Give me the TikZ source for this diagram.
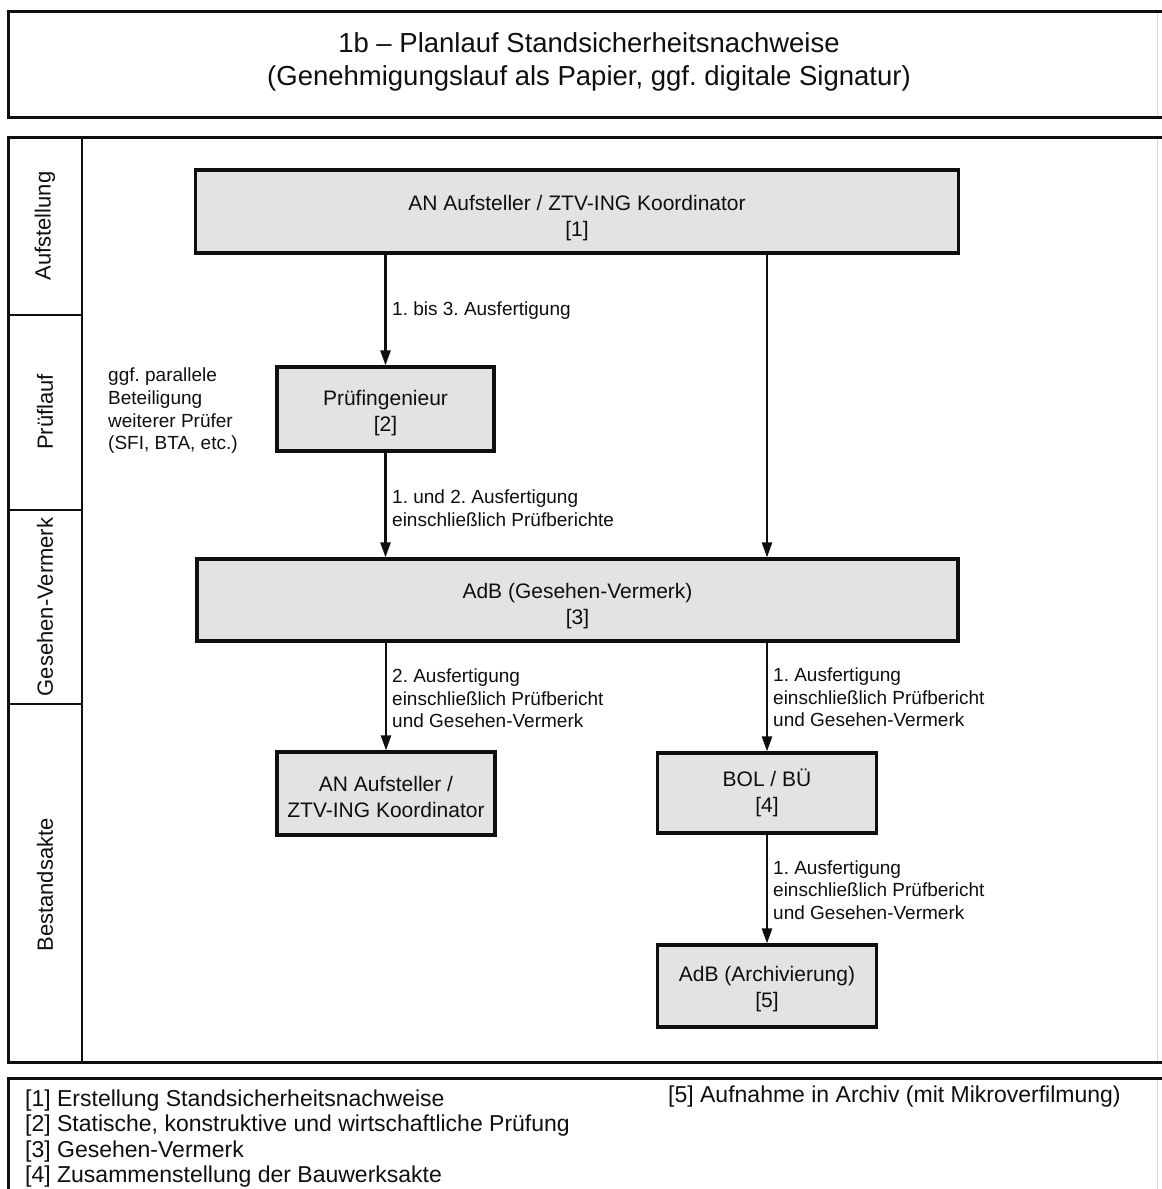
\documentclass[tikz,border=0pt]{standalone}
\usepackage{fontspec}
\setmainfont{Liberation Sans}
\usetikzlibrary{arrows.meta}
\definecolor{boxgray}{gray}{0.89}
\definecolor{ink}{gray}{0.06}
\newcommand{\toppad}{\rule{0pt}{28pt}}
\frenchspacing
\begin{document}
\frenchspacing
\begin{tikzpicture}[x=1pt,y=-1pt,
  every node/.style={text=ink},
  box/.style={draw=ink, line width=3.2pt, fill=boxgray, inner sep=0pt, align=center,
    font=\fontsize{21}{26}\selectfont},
  lbl/.style={anchor=west, inner sep=0pt, align=left, font=\fontsize{19}{22.5}\selectfont},
  arr/.style={draw=ink, line width=2.4pt, -{Triangle[length=15pt,width=10pt]}},
  frame/.style={draw=ink, line width=3pt},
  thinframe/.style={draw=ink, line width=2.2pt},
  faint/.style={draw=gray!30, line width=0.8pt},
  lane/.style={rotate=90, inner sep=0pt, font=\fontsize{22}{26}\selectfont},
  leg/.style={anchor=west, inner sep=0pt, font=\fontsize{23}{27}\selectfont}]
\useasboundingbox (0,0) rectangle (1162,1189);
\fill[white] (0,0) rectangle (1162,1189);

% frames
\draw[faint] (1157,11) -- (1157,117);
\draw[faint] (1157,137) -- (1157,1062);
\draw[faint] (1157,1078) -- (1157,1189);
\draw[frame] (1170,11) -- (8,11) -- (8,117) -- (1170,117);
\draw[frame] (1170,137) -- (8,137) -- (8,1062) -- (1170,1062);
\draw[frame] (1170,1078) -- (8,1078) -- (8,1200);
\draw[thinframe] (82,137) -- (82,1062);
\draw[thinframe] (8,315) -- (82,315);
\draw[thinframe] (8,510) -- (82,510);
\draw[thinframe] (8,704) -- (82,704);

% title
\node[align=center, inner sep=0pt, font=\fontsize{27.5}{33}\selectfont] (title) at (589,62)
  {1b -- Planlauf Standsicherheitsnachweise\\(Genehmigungslauf als Papier, ggf. digitale Signatur)};

% lanes
\node[lane] (l1) at (45,226) {Aufstellung};
\node[lane] (l2) at (45,412) {Prüflauf};
\node[lane] (l3) at (45,607) {Gesehen-Vermerk};
\node[lane] (l4) at (45,885) {Bestandsakte};

% boxes
\node[box, minimum width=763pt, minimum height=83pt] (b1) at (577,211.5)
  {\toppad AN Aufsteller / ZTV-ING Koordinator\\{}[1]};
\node[box, minimum width=217pt, minimum height=84pt] (b2) at (385.5,409)
  {\rule{0pt}{24pt}Prüfingenieur\\{}[2]};
\node[box, minimum width=761pt, minimum height=82pt] (b3) at (577.5,600)
  {\toppad AdB (Gesehen-Vermerk)\\{}[3]};
\node[box, minimum width=218pt, minimum height=83pt] (b4a) at (386,793.5)
  {\rule{0pt}{23pt}AN Aufsteller /\\ZTV-ING Koordinator};
\node[box, minimum width=219pt, minimum height=80pt] (b4) at (767,793)
  {BOL / BÜ\\{}[4]};
\node[box, minimum width=219pt, minimum height=82pt] (b5) at (767,986)
  {\rule{0pt}{22pt}AdB (Archivierung)\\{}[5]};

% connectors
\draw[arr] (b1.south -| b2.north) -- (b2.north);
\draw[arr] (b2.south) -- (b3.north -| b2.south);
\draw[arr] (b3.south -| b4a.north) -- (b4a.north);
\draw[arr] (b1.south -| b4.north) -- (b3.north -| b4.north);
\draw[arr] (b3.south -| b4.north) -- (b4.north);
\draw[arr] (b4.south) -- (b5.north);

% labels
\node[lbl] (t1) at (392,311) {1. bis 3. Ausfertigung};
\node[lbl] (t2) at (392,508) {1. und 2. Ausfertigung\\einschließlich Prüfberichte};
\node[lbl] (t3) at (392,698.5) {2. Ausfertigung\\einschließlich Prüfbericht\\und Gesehen-Vermerk};
\node[lbl] (t4) at (773,697.5) {1. Ausfertigung\\einschließlich Prüfbericht\\und Gesehen-Vermerk};
\node[lbl] (t5) at (773,890) {1. Ausfertigung\\einschließlich Prüfbericht\\und Gesehen-Vermerk};
\node[lbl, font=\fontsize{19}{22.7}\selectfont] (side) at (108,411)
  {ggf. parallele\\Beteiligung\\weiterer Prüfer\\(SFI, BTA, etc.)};

% legend
\node[leg] (g1) at (25,1101) {[1] Erstellung Standsicherheitsnachweise};
\node[leg] (g2) at (25,1126) {[2] Statische, konstruktive und wirtschaftliche Prüfung};
\node[leg] (g3) at (25,1152) {[3] Gesehen-Vermerk};
\node[leg] (g4) at (25,1177) {[4] Zusammenstellung der Bauwerksakte};
\node[leg] (g5) at (668,1097) {[5] Aufnahme in Archiv (mit Mikroverfilmung)};
\end{tikzpicture}
\end{document}
